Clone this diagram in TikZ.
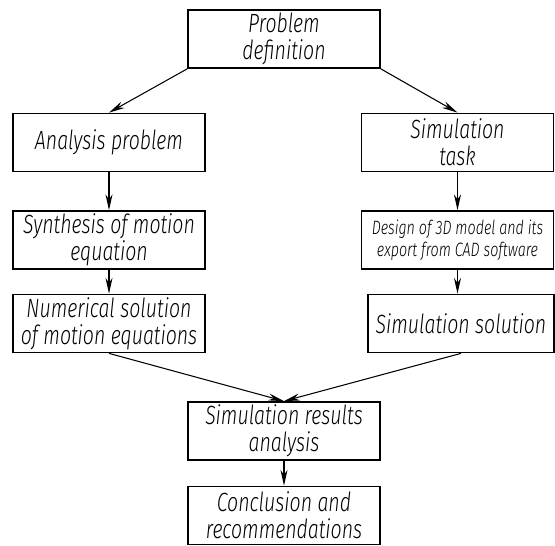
\documentclass[tikz,border=0pt]{standalone}
\usepackage{fontspec}
\setmainfont{Fira Sans}[ItalicFont={Fira Sans Light Italic},FakeStretch=0.74]
\usetikzlibrary{arrows.meta}
\begin{document}
\begin{tikzpicture}[x=0.02cm, y=-0.02cm,
    stage/.style={draw, line width=1pt, minimum width=3.84cm, minimum height=1.16cm,
      align=center, inner sep=1pt, font=\itshape\fontsize{15}{15.5}\selectfont},
    small/.style={font=\itshape\fontsize{11}{12.5}\selectfont},
    flow/.style={-{Stealth[length=9pt,width=4pt]}, line width=0.6pt}]
  \useasboundingbox (0,0) rectangle (555,545);

  % Top of the scheme
  \node[stage] (def) at (284,39) {Problem\\definition};

  % Left branch: analytical way
  \node[stage] (ana) at (109,142.5) {Analysis problem};
  \node[stage] (syn) at (109,240) {Synthesis of motion\\equation};
  \node[stage] (num) at (109,323.5) {Numerical solution\\of motion equations};

  % Right branch: simulation way
  \node[stage] (sim) at (457.5,142.5) {Simulation\\task};
  \node[stage, small] (des) at (457.5,240) {Design of 3D model and its\\export from CAD software};
  \node[stage, minimum width=3.72cm] (sol) at (461,323.5) {Simulation solution};

  % Bottom of the scheme
  \node[stage] (res) at (284,431) {Simulation results\\analysis};
  \node[stage] (con) at (284,515.5) {Conclusion and\\recommendations};

  % Connectors
  \draw[flow] (def.south west) -- (ana.north);
  \draw[flow] (def.south east) -- (sim.north);
  \draw[flow] (ana) -- (syn);
  \draw[flow] (syn) -- (num);
  \draw[flow] (sim) -- (des);
  \draw[flow] (des.south) -- (des.south |- sol.north);
  \draw[flow] (num.south) -- (res.north);
  \draw[flow] (sol.south) -- (res.north);
  \draw[flow] (res) -- (con);
\end{tikzpicture}
\end{document}
